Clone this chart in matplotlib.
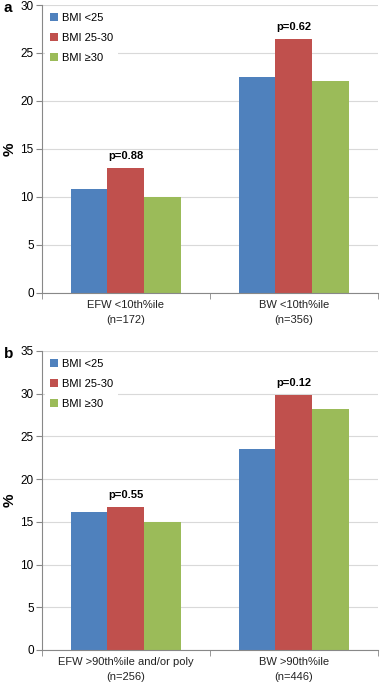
import numpy as np
import matplotlib
matplotlib.use('Agg')
import matplotlib.pyplot as plt
from matplotlib.patches import Patch

plt.rcParams['font.family'] = ['Liberation Sans', 'DejaVu Sans']

series = ['BMI <25', 'BMI 25-30', 'BMI \u226530']
colors = ['#4F81BD', '#C0504D', '#9BBB59']

cats_a = ['EFW <10th%ile\n(n=172)', 'BW <10th%ile\n(n=356)']
vals_a = {
    'BMI <25': [10.8, 22.5],
    'BMI 25-30': [13.0, 26.5],
    'BMI \u226530': [10.0, 22.05],
}
pvals_a = ['p=0.88', 'p=0.62']

cats_b = ['EFW >90th%ile and/or poly\n(n=256)', 'BW >90th%ile\n(n=446)']
vals_b = {
    'BMI <25': [16.1, 23.5],
    'BMI 25-30': [16.7, 29.9],
    'BMI \u226530': [15.0, 28.2],
}
pvals_b = ['p=0.55', 'p=0.12']


def draw_panel(ax, cats, vals, pvals, ymax):
    x = np.arange(len(cats))
    w = 0.22
    for i, (name, color) in enumerate(zip(series, colors)):
        ax.bar(x + (i - 1) * w, vals[name], w, color=color, zorder=2)
    # p-values above the middle bar
    for j, p in enumerate(pvals):
        top = vals[series[1]][j]
        ax.annotate(p, (x[j], top), xytext=(0, 5), textcoords='offset points',
                    ha='center', va='bottom', fontsize=8, fontweight='bold')

    ax.set_xlim(-0.5, len(cats) - 0.5)
    ax.set_ylim(0, ymax)
    ax.set_yticks(np.arange(0, ymax + 1, 5))
    ax.set_xticks(x)
    ax.set_xticklabels(cats, fontsize=8, color='#222222', linespacing=1.6)
    ax.set_xticks(np.arange(-0.5, len(cats), 1.0), minor=True)
    ax.tick_params(axis='x', which='major', length=0, pad=5)
    ax.tick_params(axis='x', which='minor', length=4, color='#888888')
    ax.tick_params(axis='y', length=4, color='#888888', labelsize=8.5, pad=2)
    ax.grid(axis='y', color='#d9d9d9', linewidth=0.8, zorder=0)
    ax.set_axisbelow(True)
    for side in ['top', 'right']:
        ax.spines[side].set_visible(False)
    for side in ['left', 'bottom']:
        ax.spines[side].set_color('#888888')
    ax.set_ylabel('%', fontsize=11, fontweight='bold')
    ax.yaxis.set_label_coords(-0.075, 0.5)

    handles = [Patch(facecolor=c, edgecolor='none', label=s) for s, c in zip(series, colors)]
    leg = ax.legend(handles=handles, loc='upper left', frameon=True, fontsize=8,
                    handlelength=0.7, handleheight=0.7, handletextpad=0.4,
                    labelspacing=0.9, borderaxespad=0.3, bbox_to_anchor=(0.0, 1.0))
    leg.get_frame().set_edgecolor('none')
    leg.get_frame().set_facecolor('white')
    leg.get_frame().set_alpha(1.0)


fig = plt.figure(figsize=(3.8, 6.85), dpi=100)
ax_a = fig.add_axes([0.1105, 0.5723, 0.884, 0.4204])
ax_b = fig.add_axes([0.1105, 0.0511, 0.884, 0.4365])

draw_panel(ax_a, cats_a, vals_a, pvals_a, 30)
draw_panel(ax_b, cats_b, vals_b, pvals_b, 35)

# panel letters
fig.text(4 / 380, 1 - 8 / 685, 'a', fontsize=11, fontweight='bold', ha='left', va='center')
fig.text(4 / 380, 1 - 354 / 685, 'b', fontsize=11, fontweight='bold', ha='left', va='center')

fig.savefig('out.png', dpi=100)
